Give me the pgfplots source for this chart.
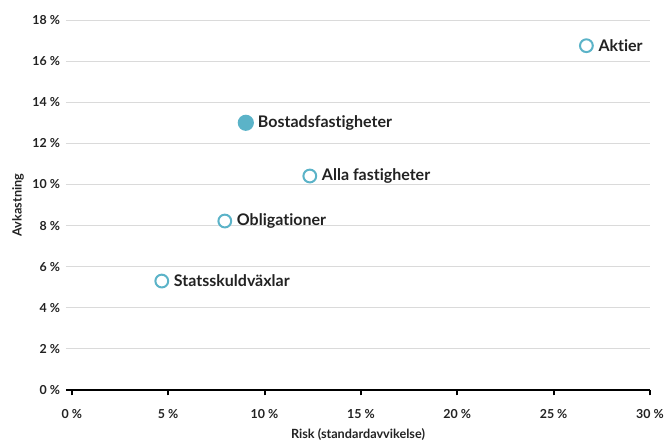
\documentclass[border=0pt]{standalone}
\usepackage{fontspec}
\setmainfont{Lato}[Ligatures=NoCommon]
\usepackage{pgfplots}
\pgfplotsset{compat=1.18}
\definecolor{mk}{HTML}{5BB3C8}
\definecolor{txt}{HTML}{222222}
\definecolor{grd}{HTML}{DADADA}
\begin{document}
\begin{tikzpicture}[x=1pt,y=1pt]
\begin{axis}[
  scale only axis,
  width=438pt, height=277.5pt,
  xmin=-0.3, xmax=30, ymin=0, ymax=18,
  axis x line*=bottom, axis y line*=left,
  x axis line style={line width=1.5pt, black, -},
  y axis line style={draw=none},
  xtick={0,5,...,30}, ytick={0,2,...,18},
  xticklabels={0 \%,5 \%,10 \%,15 \%,20 \%,25 \%,30 \%},
  yticklabels={0 \%,2 \%,4 \%,6 \%,8 \%,10 \%,12 \%,14 \%,16 \%,18 \%},
  ymajorgrids, major grid style={grd, line width=0.75pt},
  x tick style={line width=1.5pt, black},
  xtick align=outside, major tick length=4pt,
  ytick style={draw=none},
  tick label style={font=\fontsize{9.3}{11}\selectfont\bfseries, text=txt},
  xticklabel style={yshift=-7pt},
  yticklabel style={xshift=-1pt},
  xlabel={Risk (standardavvikelse)}, ylabel={Avkastning},
  label style={font=\fontsize{9.5}{11}\selectfont\bfseries, text=txt},
  xlabel style={yshift=-1pt},
  ylabel style={at={(rel axis cs:0,0.5)}, rotate=0, anchor=south, yshift=28pt},
  clip=false,
  nodes near coords, point meta=explicit symbolic,
  every node near coord/.style={anchor=west, xshift=5pt, font=\fontsize{12}{14}\selectfont\bfseries, text=txt},
]
\addplot[only marks, mark=*, mark size=5.3pt, mark options={draw=mk, fill=mk, line width=1.5pt}]
  table[meta=label] {
  x y label
  9.03 13.0 Bostadsfastigheter
  };
\addplot[only marks, mark=*, mark size=4.8pt, mark options={draw=mk, fill=white, line width=1.5pt}]
  table[meta=label] {
  x y label
  26.7 16.75 Aktier
  12.35 10.41 {Alla fastigheter}
  7.94 8.22 Obligationer
  4.67 5.30 Statsskuldväxlar
  };
\end{axis}
\pgfresetboundingbox
\path[use as bounding box] (-49.5pt,-40.5pt) rectangle (452.25pt,292.5pt);
\end{tikzpicture}
\end{document}
